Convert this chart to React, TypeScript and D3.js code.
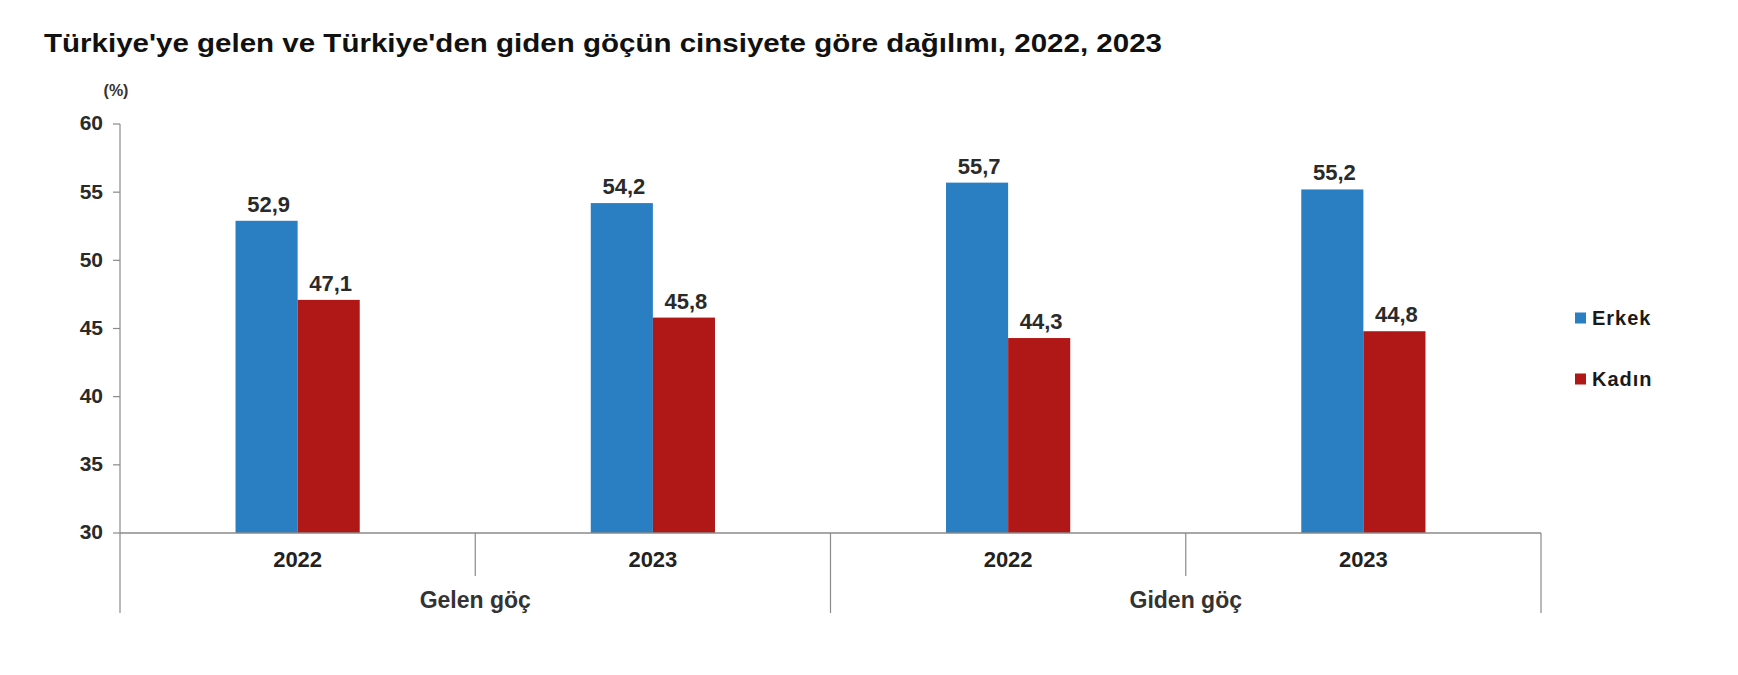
import * as d3 from 'd3'

const groups = ['Gelen göç', 'Giden göç']
const categories = ['Gelen göç|2022', 'Gelen göç|2023', 'Giden göç|2022', 'Giden göç|2023']
const erkek = [52.9, 54.2, 55.7, 55.2]
const kadin = [47.1, 45.8, 44.3, 44.8]
const series = [
  { name: 'Erkek', values: erkek, color: '#2a7fc3' },
  { name: 'Kadın', values: kadin, color: '#b01717' },
]
const yTicks = [30, 35, 40, 45, 50, 55, 60]

const W = 1738
const H = 675
const FONT = '"Liberation Sans", Arial, sans-serif'
const AXIS = '#8a8a8a'

export default function App() {
  const left = 120
  const right = 1541
  const top = 124
  const bottom = 533

  const x = d3.scaleBand<string>().domain(categories).range([left, right]).padding(0)
  const y = d3.scaleLinear().domain([30, 60]).range([bottom, top])
  // two bars, ~62px each, centred in a 355px category slot
  const inner = d3
    .scaleBand<string>()
    .domain(series.map((s) => s.name))
    .range([0, x.bandwidth()])
    .paddingInner(0)
    .paddingOuter(1.86)

  const groupX = d3.scaleBand<string>().domain(groups).range([left, right])

  const fmt = (v: number) => v.toFixed(1).replace('.', ',')

  return (
    <svg width={W} height={H} style={{ position: 'absolute', left: 0, top: 0, background: '#fff' }}>
      <text
        x={44}
        y={52}
        fontFamily={FONT}
        fontWeight={700}
        fontSize={26}
        fill="#111"
        textLength={1118}
        lengthAdjust="spacingAndGlyphs"
      >
        Türkiye'ye gelen ve Türkiye'den giden göçün cinsiyete göre dağılımı, 2022, 2023
      </text>

      <text x={116} y={96} textAnchor="middle" fontFamily={FONT} fontWeight={700} fontSize={16} fill="#333">
        (%)
      </text>

      {/* y axis */}
      <line x1={left} x2={left} y1={top} y2={bottom} stroke={AXIS} strokeWidth={1.2} />
      {yTicks.map((t) => (
        <g key={t}>
          <line x1={left - 7} x2={left} y1={y(t)} y2={y(t)} stroke={AXIS} strokeWidth={1.2} />
          <text
            x={103}
            y={y(t) - 1}
            dy="0.35em"
            textAnchor="end"
            fontFamily={FONT}
            fontWeight={700}
            fontSize={21}
            fill="#2a2a2a"
          >
            {t}
          </text>
        </g>
      ))}

      {/* bars */}
      {categories.map((c, i) => (
        <g key={c} transform={`translate(${x(c)},0)`}>
          {series.map((s) => {
            const v = s.values[i]
            const bx = inner(s.name) as number
            return (
              <g key={s.name}>
                <rect x={bx} y={y(v)} width={inner.bandwidth()} height={bottom - y(v)} fill={s.color} />
                <text
                  x={bx + inner.bandwidth() / 2 + 2}
                  y={y(v) - 9}
                  textAnchor="middle"
                  fontFamily={FONT}
                  fontWeight={700}
                  fontSize={22}
                  fill="#2a2a2a"
                >
                  {fmt(v)}
                </text>
              </g>
            )
          })}
        </g>
      ))}

      {/* x axis */}
      <line x1={left} x2={right} y1={bottom} y2={bottom} stroke={AXIS} strokeWidth={1.5} />
      {categories.map((c) => (
        <text
          key={c}
          x={(x(c) as number) + x.bandwidth() / 2}
          y={567}
          textAnchor="middle"
          fontFamily={FONT}
          fontWeight={700}
          fontSize={22}
          fill="#222"
        >
          {c.split('|')[1]}
        </text>
      ))}
      {categories.slice(1).map((c) => {
        const cx = x(c) as number
        const isGroupEdge = groups.some((g) => groupX(g) === cx)
        return (
          <line
            key={c}
            x1={cx}
            x2={cx}
            y1={bottom}
            y2={isGroupEdge ? 613 : 576}
            stroke={AXIS}
            strokeWidth={1.2}
          />
        )
      })}
      <line x1={left} x2={left} y1={bottom} y2={613} stroke={AXIS} strokeWidth={1.2} />
      <line x1={right} x2={right} y1={bottom} y2={613} stroke={AXIS} strokeWidth={1.2} />
      {groups.map((g) => (
        <text
          key={g}
          x={(groupX(g) as number) + groupX.bandwidth() / 2}
          y={608}
          textAnchor="middle"
          fontFamily={FONT}
          fontWeight={700}
          fontSize={23}
          fill="#333"
        >
          {g}
        </text>
      ))}

      {/* legend */}
      {series.map((s, i) => (
        <g key={s.name} transform={`translate(1575,${318 + i * 61})`}>
          <rect x={0} y={-5.5} width={11} height={11} fill={s.color} />
          <text
            x={17}
            y={0}
            dy="0.36em"
            fontFamily={FONT}
            fontWeight={700}
            fontSize={20}
            letterSpacing={1}
            fill="#1a1a1a"
          >
            {s.name}
          </text>
        </g>
      ))}
    </svg>
  )
}
